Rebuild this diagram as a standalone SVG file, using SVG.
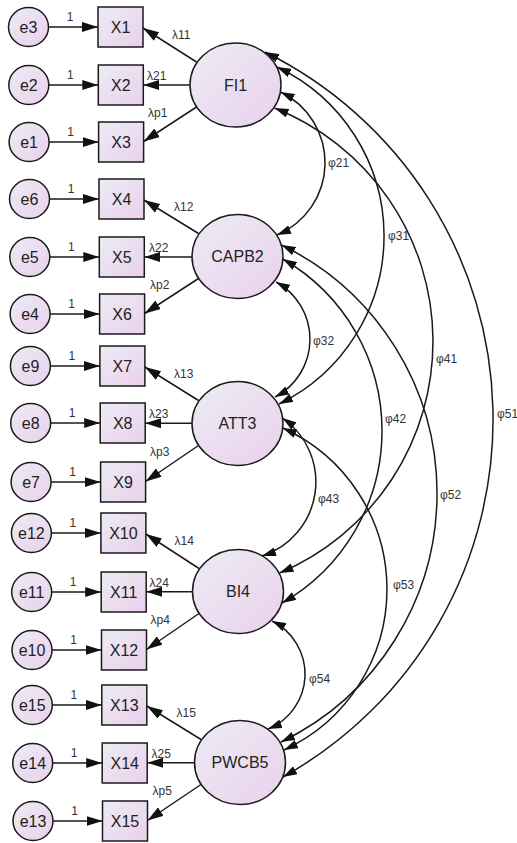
<svg xmlns="http://www.w3.org/2000/svg" width="517" height="843" viewBox="0 0 517 843">
<defs>
<linearGradient id="g" x1="0" y1="0" x2="1" y2="1"><stop offset="0" stop-color="#ececf4"/><stop offset="1" stop-color="#ead0ec"/></linearGradient>
<marker id="ah" viewBox="0 0 14 9" refX="14" refY="4.5" markerWidth="14" markerHeight="9" markerUnits="userSpaceOnUse" orient="auto-start-reverse"><path d="M0,0 L14,4.5 L0,9 z" fill="#111"/></marker>
<marker id="al" viewBox="0 0 16 10" refX="16" refY="5" markerWidth="16" markerHeight="10" markerUnits="userSpaceOnUse" orient="auto"><path d="M0,0 L16,5 L0,10 z" fill="#111"/></marker>
</defs>
<style>
.n{fill:url(#g);stroke:#1a1a1a;stroke-width:1.5}
.t{font-family:"Liberation Sans",Arial,sans-serif;font-size:16px;fill:#222;text-anchor:middle}
.s{font-family:"Liberation Sans",Arial,sans-serif;font-size:12px;fill:#333}
.m{text-anchor:middle}
.c{fill:none;stroke:#1a1a1a;stroke-width:1.5}
.a{marker-end:url(#al)}
.b{marker-start:url(#ah);marker-end:url(#ah)}
</style>
<rect width="517" height="843" fill="#fff"/>
<g id="e3"><ellipse class="n" cx="28.5" cy="27" rx="20" ry="19.5"/><text class="t" x="28.5" y="32.5">e3</text></g>
<g id="e2"><ellipse class="n" cx="28.8" cy="85" rx="20" ry="19.5"/><text class="t" x="28.8" y="90.5">e2</text></g>
<g id="e1"><ellipse class="n" cx="29.1" cy="142" rx="20" ry="19.5"/><text class="t" x="29.1" y="147.5">e1</text></g>
<g id="e6"><ellipse class="n" cx="29.5" cy="199" rx="20" ry="19.5"/><text class="t" x="29.5" y="204.5">e6</text></g>
<g id="e5"><ellipse class="n" cx="29.8" cy="257" rx="20" ry="19.5"/><text class="t" x="29.8" y="262.5">e5</text></g>
<g id="e4"><ellipse class="n" cx="30.1" cy="314" rx="20" ry="19.5"/><text class="t" x="30.1" y="319.5">e4</text></g>
<g id="e9"><ellipse class="n" cx="30.4" cy="366" rx="20" ry="19.5"/><text class="t" x="30.4" y="371.5">e9</text></g>
<g id="e8"><ellipse class="n" cx="30.7" cy="423" rx="20" ry="19.5"/><text class="t" x="30.7" y="428.5">e8</text></g>
<g id="e7"><ellipse class="n" cx="31.1" cy="482" rx="20" ry="19.5"/><text class="t" x="31.1" y="487.5">e7</text></g>
<g id="e12"><ellipse class="n" cx="31.4" cy="533" rx="20" ry="19.5"/><text class="t" x="31.4" y="538.5">e12</text></g>
<g id="e11"><ellipse class="n" cx="31.7" cy="592" rx="20" ry="19.5"/><text class="t" x="31.7" y="597.5">e11</text></g>
<g id="e10"><ellipse class="n" cx="32" cy="650" rx="20" ry="19.5"/><text class="t" x="32" y="655.5">e10</text></g>
<g id="e15"><ellipse class="n" cx="32.3" cy="705" rx="20" ry="19.5"/><text class="t" x="32.3" y="710.5">e15</text></g>
<g id="e14"><ellipse class="n" cx="32.7" cy="763" rx="20" ry="19.5"/><text class="t" x="32.7" y="768.5">e14</text></g>
<g id="e13"><ellipse class="n" cx="33" cy="821" rx="20" ry="19.5"/><text class="t" x="33" y="826.5">e13</text></g>

<g id="X1"><rect class="n" x="98" y="7" width="45" height="40"/><text class="t" x="120.5" y="32.5">X1</text></g>
<g id="X2"><rect class="n" x="98.3" y="65" width="45" height="40"/><text class="t" x="120.8" y="90.5">X2</text></g>
<g id="X3"><rect class="n" x="98.6" y="122" width="45" height="40"/><text class="t" x="121.1" y="147.5">X3</text></g>
<g id="X4"><rect class="n" x="99" y="179" width="45" height="40"/><text class="t" x="121.5" y="204.5">X4</text></g>
<g id="X5"><rect class="n" x="99.3" y="237" width="45" height="40"/><text class="t" x="121.8" y="262.5">X5</text></g>
<g id="X6"><rect class="n" x="99.6" y="294" width="45" height="40"/><text class="t" x="122.1" y="319.5">X6</text></g>
<g id="X7"><rect class="n" x="99.9" y="346" width="45" height="40"/><text class="t" x="122.4" y="371.5">X7</text></g>
<g id="X8"><rect class="n" x="100.2" y="403" width="45" height="40"/><text class="t" x="122.7" y="428.5">X8</text></g>
<g id="X9"><rect class="n" x="100.6" y="462" width="45" height="40"/><text class="t" x="123.1" y="487.5">X9</text></g>
<g id="X10"><rect class="n" x="100.9" y="513" width="45" height="40"/><text class="t" x="123.4" y="538.5">X10</text></g>
<g id="X11"><rect class="n" x="101.2" y="572" width="45" height="40"/><text class="t" x="123.7" y="597.5">X11</text></g>
<g id="X12"><rect class="n" x="101.5" y="630" width="45" height="40"/><text class="t" x="124" y="655.5">X12</text></g>
<g id="X13"><rect class="n" x="101.8" y="685" width="45" height="40"/><text class="t" x="124.3" y="710.5">X13</text></g>
<g id="X14"><rect class="n" x="102.2" y="743" width="45" height="40"/><text class="t" x="124.7" y="768.5">X14</text></g>
<g id="X15"><rect class="n" x="102.5" y="801" width="45" height="40"/><text class="t" x="125" y="826.5">X15</text></g>

<g id="FI1"><ellipse class="n" cx="235.5" cy="85" rx="45.5" ry="42"/><text class="t" x="235.5" y="90.5">FI1</text></g>
<g id="CAPB2"><ellipse class="n" cx="237.5" cy="256.5" rx="45.5" ry="42"/><text class="t" x="237.5" y="262">CAPB2</text></g>
<g id="ATT3"><ellipse class="n" cx="237.5" cy="423.5" rx="45.5" ry="42"/><text class="t" x="237.5" y="429">ATT3</text></g>
<g id="BI4"><ellipse class="n" cx="238" cy="591.5" rx="45.5" ry="42"/><text class="t" x="238" y="597">BI4</text></g>
<g id="PWCB5"><ellipse class="n" cx="240" cy="762.5" rx="45.5" ry="42"/><text class="t" x="240" y="768">PWCB5</text></g>

<g id="connectors">
<g class="c a">
<line x1="48.5" y1="27" x2="98" y2="27"/>
<line x1="48.8" y1="85" x2="98.3" y2="85"/>
<line x1="49.1" y1="142" x2="98.6" y2="142"/>
<line x1="49.5" y1="199" x2="99" y2="199"/>
<line x1="49.8" y1="257" x2="99.3" y2="257"/>
<line x1="50.1" y1="314" x2="99.6" y2="314"/>
<line x1="50.4" y1="366" x2="99.9" y2="366"/>
<line x1="50.7" y1="423" x2="100.2" y2="423"/>
<line x1="51.1" y1="482" x2="100.6" y2="482"/>
<line x1="51.4" y1="533" x2="100.9" y2="533"/>
<line x1="51.7" y1="592" x2="101.2" y2="592"/>
<line x1="52" y1="650" x2="101.5" y2="650"/>
<line x1="52.3" y1="705" x2="101.8" y2="705"/>
<line x1="52.7" y1="763" x2="102.2" y2="763"/>
<line x1="53" y1="821" x2="102.5" y2="821"/>

<line x1="196.5" y1="62" x2="143" y2="28"/>
<line x1="190" y1="85" x2="143.3" y2="85"/>
<line x1="196.5" y1="107" x2="143.6" y2="141.5"/>
<line x1="198.5" y1="233.5" x2="144" y2="200"/>
<line x1="192" y1="257" x2="144.3" y2="257"/>
<line x1="198.5" y1="278.5" x2="144.6" y2="313.5"/>
<line x1="198.5" y1="400.5" x2="144.9" y2="367"/>
<line x1="192" y1="423.3" x2="145.2" y2="423.3"/>
<line x1="198.5" y1="445.5" x2="145.6" y2="481.5"/>
<line x1="199" y1="568.5" x2="145.9" y2="534"/>
<line x1="192.5" y1="591.8" x2="146.2" y2="591.8"/>
<line x1="199" y1="613.5" x2="146.5" y2="649.5"/>
<line x1="201" y1="739.5" x2="146.8" y2="706"/>
<line x1="194.5" y1="762.8" x2="147.2" y2="762.8"/>
<line x1="201" y1="784.5" x2="147.5" y2="820.5"/>
</g>
<g class="c b">
<path d="M280.5,92 A78.4,78.4 0 0 1 277,235"/>
<path d="M277,67 A186.9,186.9 0 0 1 279,404"/>
<path d="M274.5,108 A251.3,251.3 0 0 1 279.5,573"/>
<path d="M265,52 A409.7,409.7 0 0 1 283,777"/>
<path d="M276,282 A65.2,65.2 0 0 1 275,397"/>
<path d="M282.8,259 A198.3,198.3 0 0 1 282,603"/>
<path d="M281.5,245 A276.1,276.1 0 0 1 281,742"/>
<path d="M282.5,418 A77.9,77.9 0 0 1 262,556"/>
<path d="M282.7,428 A176.9,176.9 0 0 1 284,750"/>
<path d="M272,621 A59.2,59.2 0 0 1 268,729"/>
</g>
</g>

<g id="labels">
<g class="s m">
<text x="70" y="21">1</text>
<text x="70.3" y="79">1</text>
<text x="70.6" y="136">1</text>
<text x="71" y="193">1</text>
<text x="71.3" y="251">1</text>
<text x="71.6" y="308">1</text>
<text x="71.9" y="360">1</text>
<text x="72.2" y="417">1</text>
<text x="72.6" y="476">1</text>
<text x="72.9" y="527">1</text>
<text x="73.2" y="586">1</text>
<text x="73.5" y="644">1</text>
<text x="73.8" y="699">1</text>
<text x="74.2" y="757">1</text>
<text x="74.5" y="815">1</text>
</g>
<g class="s">
<text x="172" y="39">λ11</text>
<text x="147" y="80">λ21</text>
<text x="148" y="117">λp1</text>
<text x="174" y="211">λ12</text>
<text x="149" y="251.5">λ22</text>
<text x="150" y="288.5">λp2</text>
<text x="174" y="378">λ13</text>
<text x="149" y="418">λ23</text>
<text x="150" y="455.5">λp3</text>
<text x="174.5" y="545">λ14</text>
<text x="149.5" y="586.5">λ24</text>
<text x="150.5" y="623.5">λp4</text>
<text x="176.5" y="717">λ15</text>
<text x="151.5" y="757.5">λ25</text>
<text x="152.5" y="794.5">λp5</text>
<text x="328" y="167">φ21</text>
<text x="388" y="240">φ31</text>
<text x="313" y="345">φ32</text>
<text x="436" y="363">φ41</text>
<text x="385" y="423">φ42</text>
<text x="497" y="418">φ51</text>
<text x="318" y="503">φ43</text>
<text x="440" y="499">φ52</text>
<text x="393" y="589">φ53</text>
<text x="309" y="683">φ54</text>
</g>
</g>
</svg>
